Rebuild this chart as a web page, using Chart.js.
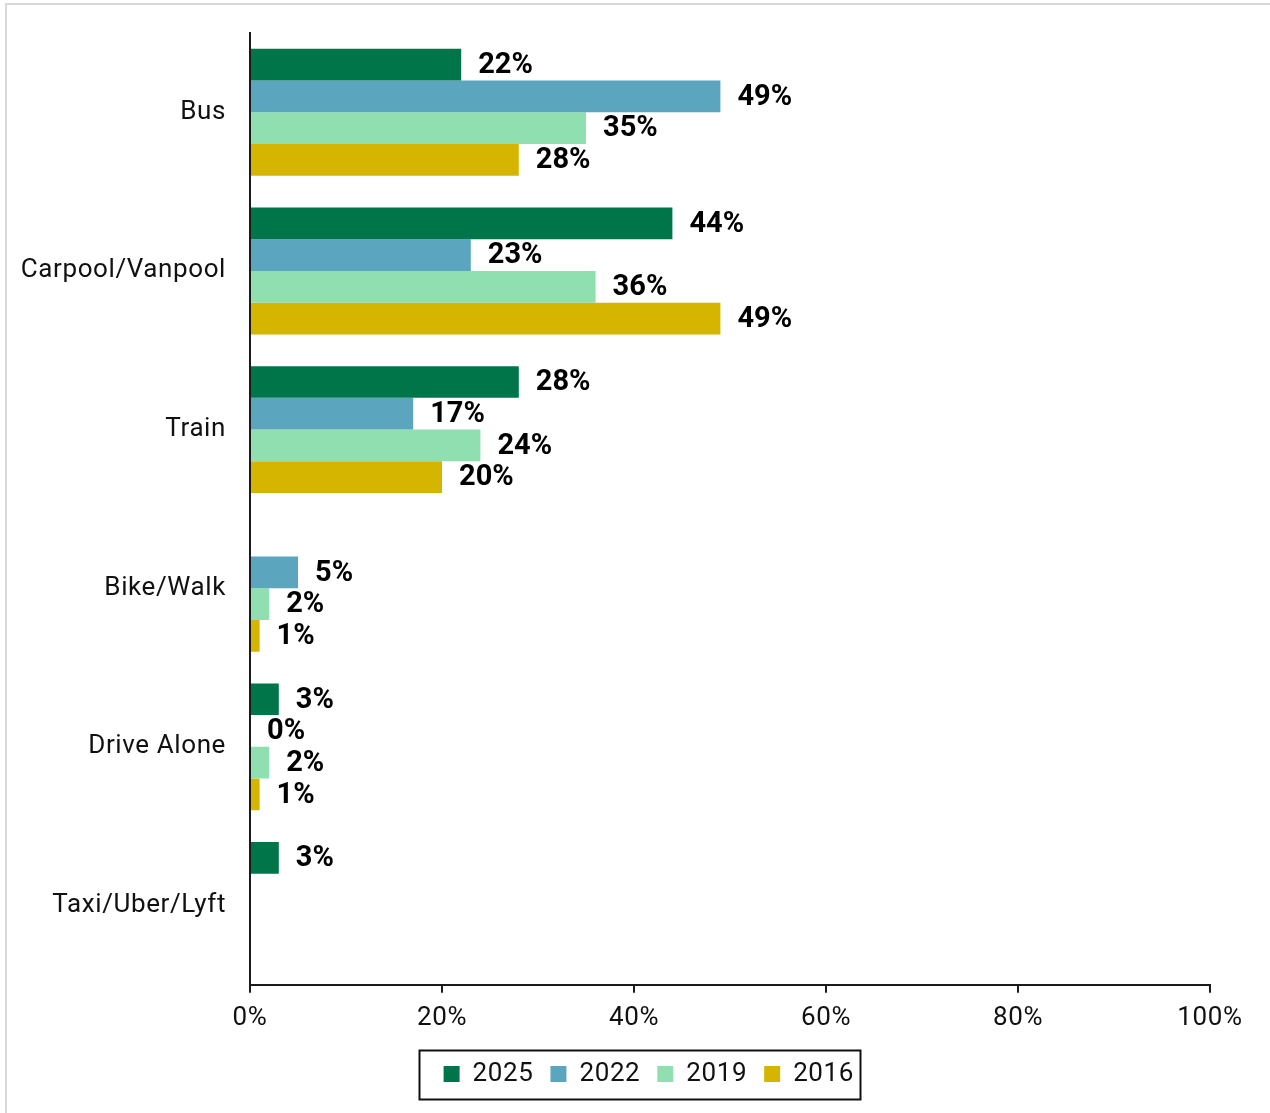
<!DOCTYPE html>
<html>
<head>
<meta charset="utf-8">
<title>Commute mode share by survey year</title>
<script src="https://cdn.jsdelivr.net/npm/chart.js@4.4.1/dist/chart.umd.min.js"></script>
<style>
  html, body { margin: 0; padding: 0; background: #ffffff; }
  #wrap { width: 1270px; height: 1113px; }
</style>
</head>
<body>
<div id="wrap"><canvas id="chart" width="1270" height="1113"></canvas></div>
<script>
// Travel modes (categories) and share of respondents per survey year, in percent
const modes = ['Bus', 'Carpool/Vanpool', 'Train', 'Bike/Walk', 'Drive Alone', 'Taxi/Uber/Lyft'];
const years = ['2025', '2022', '2019', '2016'];
const share2025 = [22, 44, 28, null, 3, 3];
const share2022 = [49, 23, 17, 5, 0, null];
const share2019 = [35, 36, 24, 2, 2, null];
const share2016 = [28, 49, 20, 1, 1, null];
const xTicks = [0, 20, 40, 60, 80, 100];

const colors = ['#00754a', '#5ca5bf', '#90dfb0', '#d6b500'];
const seriesValues = [share2025, share2022, share2019, share2016];

const FONT = 'Roboto, "DejaVu Sans", sans-serif';

// Bold percentage label at the end of every drawn bar
const valueLabels = {
  id: 'valueLabels',
  afterDatasetsDraw(chart) {
    const ctx = chart.ctx;
    ctx.save();
    ctx.letterSpacing = '0px';
    ctx.font = 'bold 29px ' + FONT;
    ctx.fillStyle = '#000000';
    ctx.textAlign = 'left';
    ctx.textBaseline = 'middle';
    chart.data.datasets.forEach((ds, i) => {
      const meta = chart.getDatasetMeta(i);
      meta.data.forEach((bar, j) => {
        const v = ds.data[j];
        if (v === null || v === undefined) return;
        ctx.fillText(v + '%', bar.x + 17, bar.y + 1);
      });
    });
    ctx.restore();
  }
};

// Legend row sits centred under the plot area rather than the whole canvas
const legendShift = {
  id: 'legendShift',
  afterLayout(chart) {
    const lg = chart.legend;
    if (!lg) return;
    lg.left += 34;
    lg.right += 34;
  }
};

// Frame around the page and a box around the legend row
const frames = {
  id: 'frames',
  beforeDraw(chart) {
    const ctx = chart.ctx;
    ctx.save();
    ctx.fillStyle = '#ffffff';
    ctx.fillRect(0, 0, chart.width, chart.height);
    ctx.strokeStyle = '#d9d9d9';
    ctx.lineWidth = 2;
    ctx.strokeRect(6, 4, chart.width + 20, chart.height + 20);
    ctx.restore();
    // slightly open tracking for axis and legend text
    ctx.letterSpacing = '0.6px';
  },
  afterDraw(chart) {
    const ctx = chart.ctx;
    ctx.letterSpacing = '0px';
    const boxes = chart.legend && chart.legend.legendHitBoxes;
    if (!boxes || !boxes.length) return;
    let l = Infinity, r = -Infinity, cy = 0;
    boxes.forEach(b => {
      l = Math.min(l, b.left);
      r = Math.max(r, b.left + b.width);
      cy += b.top + b.height / 2;
    });
    cy /= boxes.length;
    ctx.save();
    ctx.strokeStyle = '#111111';
    ctx.lineWidth = 2;
    ctx.strokeRect(Math.round(l - 25) + 0.5, Math.round(cy - 24) + 0.5, Math.round(r - l + 40), 49);
    ctx.restore();
  }
};

new Chart(document.getElementById('chart'), {
  type: 'bar',
  data: {
    labels: modes,
    datasets: years.map((y, i) => ({
      label: y,
      data: seriesValues[i],
      backgroundColor: colors[i],
      borderWidth: 0,
      categoryPercentage: 0.8,
      barPercentage: 1.0
    }))
  },
  options: {
    indexAxis: 'y',
    responsive: false,
    animation: false,
    devicePixelRatio: 1,
    layout: { padding: { top: 33, right: 60, bottom: 16, left: 10 } },
    scales: {
      x: {
        min: 0,
        max: 100,
        afterBuildTicks(scale) {
          scale.ticks = xTicks.map(v => ({ value: v }));
        },
        grid: {
          drawOnChartArea: false,
          drawTicks: true,
          tickLength: 8,
          color: '#1a1a1a',
          lineWidth: 2
        },
        border: { display: true, color: '#1a1a1a', width: 2 },
        ticks: {
          padding: 10,
          color: '#111111',
          font: { family: FONT, size: 26 },
          maxRotation: 0,
          callback: v => v + '%'
        }
      },
      y: {
        // invisible tick marks give the gap between labels and the axis line
        grid: {
          drawOnChartArea: false,
          drawTicks: true,
          tickLength: 24,
          color: 'rgba(0,0,0,0)'
        },
        border: { display: true, color: '#1a1a1a', width: 2 },
        ticks: {
          padding: 0,
          color: '#111111',
          font: { family: FONT, size: 26 }
        },
        afterFit(scale) { scale.width = 240; }
      }
    },
    plugins: {
      legend: {
        position: 'bottom',
        labels: {
          boxWidth: 16,
          boxHeight: 16,
          padding: 17,
          color: '#111111',
          font: { family: FONT, size: 26 }
        }
      },
      tooltip: { enabled: false }
    }
  },
  plugins: [valueLabels, legendShift, frames]
});
</script>
</body>
</html>
